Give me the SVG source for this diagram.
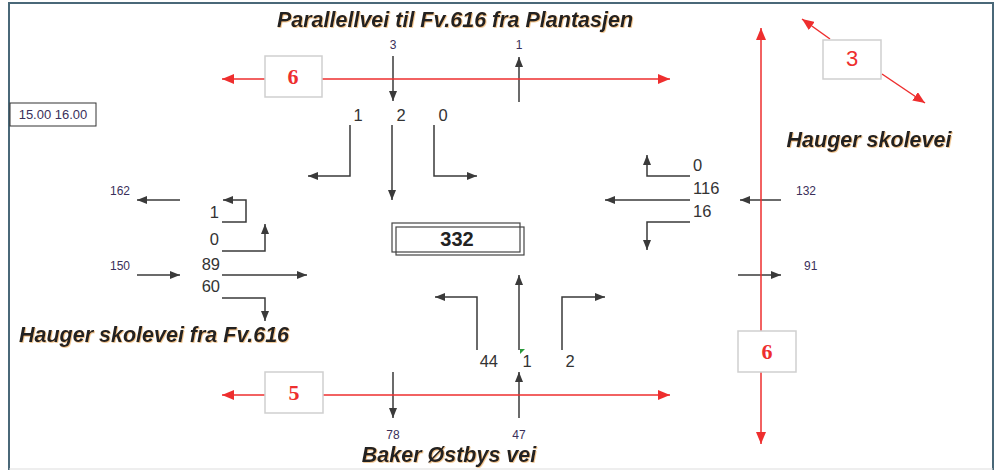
<svg xmlns="http://www.w3.org/2000/svg" width="1000" height="470" viewBox="0 0 1000 470">
<defs>
<style>
.frame{fill:#fff;stroke:#4a6878;stroke-width:2}
.road{font-family:"Liberation Sans",Arial,sans-serif;font-weight:bold;font-style:italic;font-size:21.5px;fill:#222;filter:url(#sh)}
.num{font-family:"Liberation Sans",Arial,sans-serif;font-size:16.5px;fill:#333}
.sm{font-family:"Liberation Sans",Arial,sans-serif;font-size:12px;fill:#3a2f5a}
.ar{fill:none;stroke:#3a3a3a;stroke-width:1.5;marker-end:url(#ab)}
.rl{fill:none;stroke:#ee2e2e;stroke-width:1.5}
.rbox{fill:#fff;stroke:#cfcfcf;stroke-width:1.5}
.rnum{font-family:"Liberation Serif","Times New Roman",serif;font-weight:bold;font-size:22px;fill:#ee2e2e;text-anchor:middle}
</style>
<filter id="sh" x="-5%" y="-20%" width="110%" height="150%">
<feDropShadow dx="0.8" dy="0.8" stdDeviation="0.3" flood-color="#e0902a" flood-opacity="0.6"/>
</filter>
<marker id="ab" viewBox="0 0 10 8" refX="10" refY="4" markerWidth="10" markerHeight="8" markerUnits="userSpaceOnUse" orient="auto">
<path d="M0,0 L10,4 L0,8 z" fill="#3a3a3a"/>
</marker>
<marker id="ar" viewBox="0 0 12 10" refX="12" refY="5" markerWidth="12" markerHeight="10" markerUnits="userSpaceOnUse" orient="auto">
<path d="M0,0 L12,5 L0,10 z" fill="#ee2e2e"/>
</marker>
</defs>
<rect class="frame" x="9" y="3" width="984" height="480"/>
<line x1="9" y1="469" x2="993" y2="469" stroke="#ddd" stroke-width="1"/>

<g id="labels">
<text class="road" x="455" y="27" text-anchor="middle">Parallellvei til Fv.616 fra Plantasjen</text>
<text class="road" x="869" y="147" text-anchor="middle">Hauger skolevei</text>
<text class="road" x="154" y="342" text-anchor="middle">Hauger skolevei fra Fv.616</text>
<text class="road" x="449" y="462" text-anchor="middle">Baker Østbys vei</text>
</g>

<g id="time">
<rect x="10" y="103" width="86" height="23" fill="#fff" stroke="#333" stroke-width="1"/>
<text class="sm" x="53" y="119" text-anchor="middle" style="font-size:13px">15.00 16.00</text>
</g>

<g id="center">
<rect x="392" y="223" width="128" height="29" fill="none" stroke="#444" stroke-width="1.2"/>
<rect x="396" y="227" width="128" height="28" fill="none" stroke="#444" stroke-width="1.2"/>
<text x="457" y="246" text-anchor="middle" font-family="Liberation Sans, Arial, sans-serif" font-weight="bold" font-size="20" fill="#222">332</text>
</g>

<g id="connectors">
<line class="ar" x1="393" y1="56" x2="393" y2="101"/>
<line class="ar" x1="519" y1="102" x2="519" y2="57"/>
<polyline class="ar" points="350,125 350,176 308,176"/>
<line class="ar" x1="392" y1="125" x2="392" y2="200"/>
<polyline class="ar" points="434,125 434,176 477,176"/>
<line class="ar" x1="180" y1="200" x2="137" y2="200"/>
<polyline class="ar" points="222,222 246,222 246,200 223,200"/>
<polyline class="ar" points="222,251 265,251 265,224"/>
<line class="ar" x1="222" y1="275" x2="307" y2="275"/>
<polyline class="ar" points="222,298 265,298 265,321"/>
<line class="ar" x1="137" y1="275" x2="180" y2="275"/>
<polyline class="ar" points="690,176 647,176 647,155"/>
<line class="ar" x1="690" y1="200" x2="605" y2="200"/>
<polyline class="ar" points="690,222 647,222 647,250"/>
<line class="ar" x1="781" y1="200" x2="740" y2="200"/>
<line class="ar" x1="738" y1="275" x2="781" y2="275"/>
<polyline class="ar" points="477,350 477,297 435,297"/>
<line class="ar" x1="519" y1="350" x2="519" y2="275"/>
<polyline class="ar" points="562,350 562,297 605,297"/>
<line class="ar" x1="393" y1="372" x2="393" y2="418"/>
<line class="ar" x1="519" y1="418" x2="519" y2="372"/>
<path d="M520,349 L525,349 L520,354 z" fill="#2a9a3a"/>
<line class="rl" x1="265" y1="79" x2="222" y2="79" marker-end="url(#ar)"/>
<line class="rl" x1="322" y1="79" x2="670" y2="79" marker-end="url(#ar)"/>
<line class="rl" x1="265" y1="395" x2="222" y2="395" marker-end="url(#ar)"/>
<line class="rl" x1="323" y1="395" x2="670" y2="395" marker-end="url(#ar)"/>
<line class="rl" x1="761" y1="331" x2="761" y2="28" marker-end="url(#ar)"/>
<line class="rl" x1="761" y1="372" x2="761" y2="444" marker-end="url(#ar)"/>
<line class="rl" x1="830" y1="39" x2="802" y2="19" marker-end="url(#ar)"/>
<line class="rl" x1="882" y1="74" x2="925" y2="103" marker-end="url(#ar)"/>
</g>

<g id="ped-north">
<rect class="rbox" x="265" y="56" width="57" height="41"/>
<text class="rnum" x="293" y="84">6</text>
</g>
<g id="ped-south">
<rect class="rbox" x="265" y="372" width="58" height="41"/>
<text class="rnum" x="294" y="400">5</text>
</g>
<g id="ped-east">
<rect class="rbox" x="738" y="331" width="58" height="41"/>
<text class="rnum" x="767" y="359">6</text>
</g>
<g id="ped-ne">
<rect class="rbox" x="823" y="40" width="58" height="39"/>
<text class="rnum" x="852" y="66" style="font-family:'Liberation Sans',Arial,sans-serif;font-weight:normal">3</text>
</g>

<g id="numbers">
<text class="sm" x="393" y="49" text-anchor="middle">3</text>
<text class="sm" x="519" y="49" text-anchor="middle">1</text>
<text class="num" x="358" y="121" text-anchor="middle">1</text>
<text class="num" x="401" y="121" text-anchor="middle">2</text>
<text class="num" x="443" y="121" text-anchor="middle">0</text>
<text class="sm" x="110" y="195">162</text>
<text class="num" x="219" y="218" text-anchor="end">1</text>
<text class="num" x="219" y="245" text-anchor="end">0</text>
<text class="num" x="220" y="270" text-anchor="end">89</text>
<text class="num" x="220" y="292" text-anchor="end">60</text>
<text class="sm" x="110" y="270">150</text>
<text class="num" x="693" y="171">0</text>
<text class="num" x="693" y="194">116</text>
<text class="num" x="693" y="217">16</text>
<text class="sm" x="796" y="195">132</text>
<text class="sm" x="804" y="270">91</text>
<text class="num" x="498" y="367" text-anchor="end">44</text>
<text class="num" x="527" y="367" text-anchor="middle">1</text>
<text class="num" x="570" y="367" text-anchor="middle">2</text>
<text class="sm" x="393" y="439" text-anchor="middle">78</text>
<text class="sm" x="519" y="439" text-anchor="middle">47</text>
</g>
</svg>
